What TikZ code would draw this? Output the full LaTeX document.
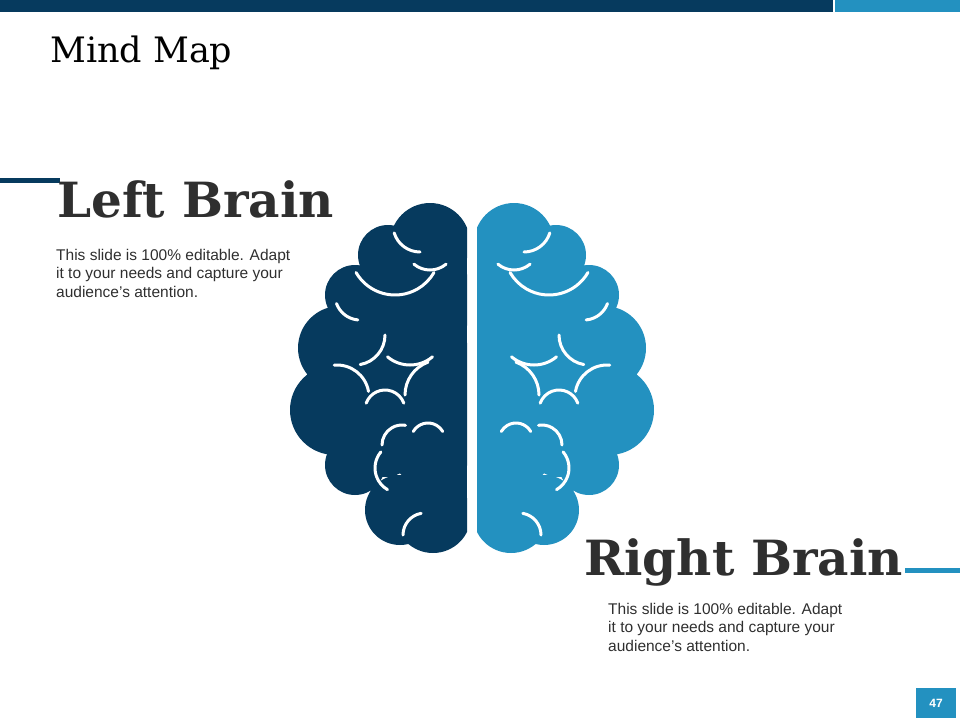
\documentclass[tikz,border=0pt]{standalone}
\usepackage{fontspec}
\setmainfont{DejaVu Serif}
\setsansfont{Liberation Sans}
\usetikzlibrary{positioning}
\definecolor{navy}{HTML}{063A5E}
\definecolor{sky}{HTML}{2391C0}
\definecolor{ink}{HTML}{2F2F2F}
\tikzset{
  fold/.style={white, line width=3pt, line cap=round},
  heading/.style={font=\fontsize{48.5}{52}\selectfont\bfseries, text=ink, inner sep=0pt, anchor=base west},
  blurb/.style={font=\sffamily\fontsize{15.5}{18.5}\selectfont, text=ink, align=left, inner sep=0pt, anchor=north west}
}
% one half of the brain, drawn in pixel coordinates (y down)
\newcommand{\halfbrain}[1]{%
  \begin{scope}
    \clip (0,0) rectangle (467,720);
    \fill[#1] (430,243) circle (40) (388,255) circle (30) (355,295) circle (30)
      (340,348) circle (42) (335,410) circle (45) (355,465) circle (30)
      (400,510) circle (35) (433,515) circle (38) (420,380) circle (60)
      (430,300) circle (45) (430,440) circle (45)
      (385,318) circle (32) (385,445) circle (32) (400,280) circle (25);
    \fill[#1] (425,240) rectangle (467,520);
  \end{scope}
  % folds
  \draw[fold] (420,225) ++(163:27) arc (163:90:27);
  \draw[fold] (430,245) ++(130:25) arc (130:50:25);
  \draw[fold] (395,250) ++(150:45) arc (150:30:45);
  \draw[fold] (360,295) ++(160:25) arc (160:95:25);
  \draw[fold] (337,397) ++(-95:32) arc (-95:-10:32);
  \draw[fold] (355,335) ++(0:30) arc (0:80:30);
  \draw[fold] (410,330) ++(130:35) arc (130:50:35);
  \draw[fold] (440,395) ++(180:35) arc (180:250:35);
  \draw[fold] (385,410) ++(-160:20) arc (-160:-20:20);
  \draw[fold] (402,445) ++(-180:20) arc (-180:-80:20);
  \draw[fold] (428,440) ++(-150:17) arc (-150:-30:17);
  \draw[fold] (400,468) ++(-140:25) arc (-140:-240:25);
  \draw[fold] (425,535) ++(-180:22) arc (-180:-100:22);
}
\begin{document}
\begin{tikzpicture}[x=1pt, y=-1pt]
  \useasboundingbox (0,0) rectangle (960,720);
  % top bar
  \fill[navy] (0,0) rectangle (833,12);
  \fill[sky] (835,0) rectangle (960,12);
  \node[font=\fontsize{35}{38}\selectfont, inner sep=0pt, anchor=base west] (title) at (50,62) {Mind Map};
  % left side
  \draw[navy, line width=5pt] (0,180) -- (60,180);
  \node[heading] (lefthead) at (57,217) {Left Brain};
  \node[blurb] (lefttext) at (56,249) {This slide is 100\% editable. Adapt\\it to your needs and capture your\\audience's attention.};
  % right side
  \draw[sky, line width=5pt] (905,570) -- (960,570);
  \node[heading] (righthead) at (584,575) {Right Brain};
  \node[blurb] (righttext) at (608,603) {This slide is 100\% editable. Adapt\\it to your needs and capture your\\audience's attention.};
  % brain
  \halfbrain{navy}
  \begin{scope}[xshift=944pt, xscale=-1]
    \halfbrain{sky}
  \end{scope}
  % page number
  \fill[sky] (916,688) rectangle (956,718);
  \node[white, font=\sffamily\bfseries\fontsize{12}{14}\selectfont] (page) at (936,703) {47};
\end{tikzpicture}
\end{document}
